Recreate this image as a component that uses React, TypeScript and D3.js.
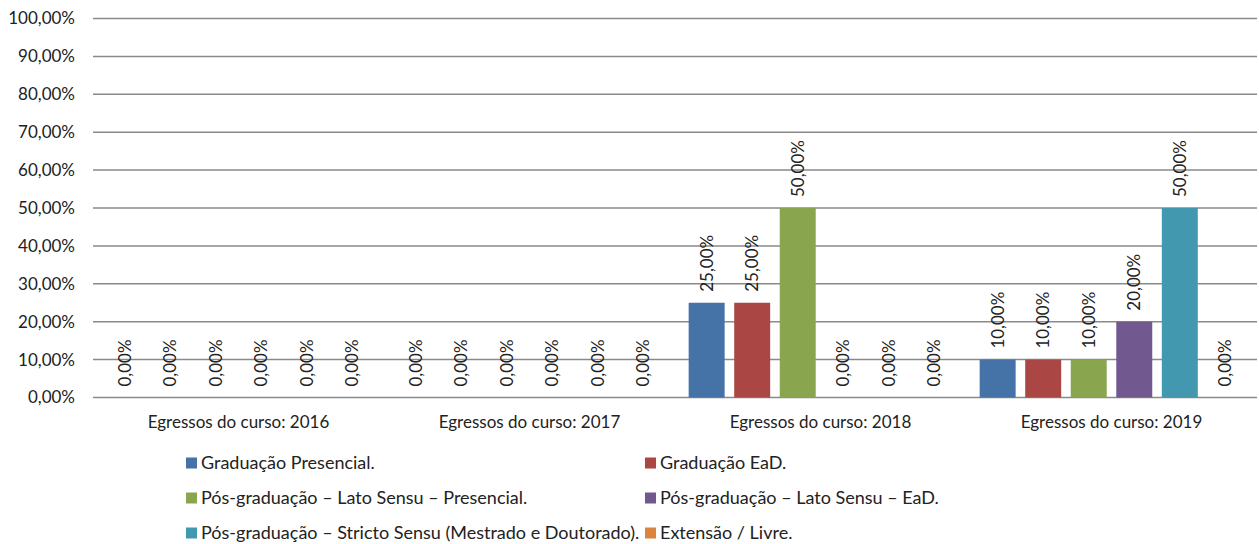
import React from "react";
import * as d3 from "d3";

const categories = [
  "Egressos do curso: 2016",
  "Egressos do curso: 2017",
  "Egressos do curso: 2018",
  "Egressos do curso: 2019",
];

const seriesNames = [
  "Graduação Presencial.",
  "Graduação EaD.",
  "Pós-graduação – Lato Sensu – Presencial.",
  "Pós-graduação – Lato Sensu – EaD.",
  "Pós-graduação – Stricto Sensu (Mestrado e Doutorado).",
  "Extensão / Livre.",
];

const gradPresencial = [0, 0, 25, 10];
const gradEaD = [0, 0, 25, 10];
const latoPresencial = [0, 0, 50, 10];
const latoEaD = [0, 0, 0, 20];
const stricto = [0, 0, 0, 50];
const extensao = [0, 0, 0, 0];

const seriesValues = [gradPresencial, gradEaD, latoPresencial, latoEaD, stricto, extensao];

const colors = ["#4572A7", "#AA4643", "#89A54E", "#71588F", "#4198AF", "#DB843D"];

const yTicks = [0, 10, 20, 30, 40, 50, 60, 70, 80, 90, 100];

const W = 1259;
const H = 544;
const FONT = "Lato, 'Open Sans', sans-serif";

const fmt = (v: number) => d3.format(".2f")(v).replace(".", ",") + "%";

export default function App() {
  const left = 93;
  const right = 1257;
  const top = 18.5;
  const bottom = 397.5;

  const x0 = d3.scaleBand<string>().domain(categories).range([left, right]).padding(0);
  const x1 = d3
    .scaleBand<number>()
    .domain(d3.range(seriesNames.length))
    .range([0, x0.bandwidth()])
    .paddingInner(0.21)
    .paddingOuter(0.3);
  const y = d3.scaleLinear().domain([0, 100]).range([bottom, top]);

  const legendCols = [186, 645];
  const legendRows = [463, 498, 533];

  return (
    <svg
      width={W}
      height={H}
      style={{ position: "absolute", left: 0, top: 0, background: "#fff" }}
      fontFamily={FONT}
    >
      {yTicks.map((t) => (
        <g key={t}>
          <line x1={left} x2={right} y1={y(t)} y2={y(t)} stroke="#8a8a8a" strokeWidth={1.5} />
          <text x={75} y={y(t)} dy="0.35em" textAnchor="end" fontSize={17} fill="#222">
            {fmt(t)}
          </text>
        </g>
      ))}
      {categories.map((c, ci) => (
        <g key={c}>
          {seriesValues.map((vals, si) => {
            const v = vals[ci];
            const bx = (x0(c) as number) + (x1(si) as number);
            const bw = x1.bandwidth();
            const by = y(v);
            const cx = bx + bw / 2;
            return (
              <g key={si}>
                {v > 0 && (
                  <rect x={bx} y={by} width={bw} height={bottom - by} fill={colors[si]} />
                )}
                <text
                  transform={`translate(${cx},${by - 11}) rotate(-90)`}
                  dy="0.35em"
                  fontSize={17}
                  fill="#222"
                >
                  {fmt(v)}
                </text>
              </g>
            );
          })}
          <text
            x={(x0(c) as number) + x0.bandwidth() / 2}
            y={422}
            dy="0.35em"
            textAnchor="middle"
            fontSize={17}
            fill="#222"
          >
            {c}
          </text>
        </g>
      ))}
      {seriesNames.map((n, i) => {
        const lx = legendCols[i % 2];
        const ly = legendRows[Math.floor(i / 2)];
        return (
          <g key={n}>
            <rect x={lx} y={ly - 5.5} width={11} height={11} fill={colors[i]} />
            <text x={lx + 15} y={ly} dy="0.35em" fontSize={18} fill="#222">
              {n}
            </text>
          </g>
        );
      })}
    </svg>
  );
}
